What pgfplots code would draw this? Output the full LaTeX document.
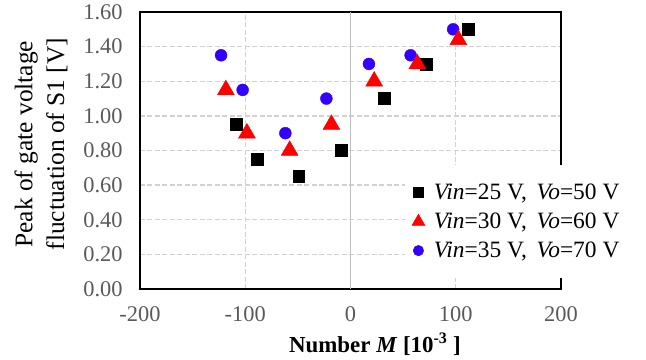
\documentclass[border=0pt]{standalone}
\usepackage{pgfplots}
\pgfplotsset{compat=1.18}
\usepackage{fontspec}
\setmainfont{Liberation Serif}
\definecolor{myblue}{RGB}{51,0,255}
\definecolor{tickgray}{RGB}{89,89,89}
\definecolor{gridgray}{RGB}{210,210,210}
\definecolor{zerogray}{RGB}{191,191,191}
\begin{document}
\begin{tikzpicture}
\path[use as bounding box] (0,0) rectangle (646bp,360bp);
\begin{axis}[
  at={(140bp,71bp)}, anchor=south west,
  scale only axis, width=421bp, height=277bp,
  xmin=-200, xmax=200, ymin=0, ymax=1.6,
  xtick={-200,-100,100,200},
  extra x ticks={0},
  extra x tick style={grid=major, major grid style={solid, zerogray, line width=1.6pt}},
  ytick={0,0.2,0.4,0.6,0.8,1.0,1.2,1.4,1.6},
  grid=major,
  major grid style={gridgray, line width=1.5pt, dash pattern=on 5pt off 2.5pt},
  major tick length=0pt,
  axis line style={black, line width=1.8pt},
  /pgf/number format/assume math mode=true,
  xticklabel style={font=\fontsize{22.5}{26}\selectfont, color=tickgray, yshift=-14pt},
  yticklabel style={font=\fontsize{22.5}{26}\selectfont, color=tickgray, xshift=-14pt,
    /pgf/number format/fixed, /pgf/number format/fixed zerofill, /pgf/number format/precision=2},
  xlabel={\textbf{Number \textit{M} [10\textsuperscript{-3} ]}},
  xlabel style={at={(axis description cs:0.558,-0.199)}, anchor=center, font=\fontsize{23}{27}\selectfont},
  ylabel={Peak of gate voltage\\fluctuation of S1 [V]},
  ylabel style={at={(axis description cs:-0.235,0.523)}, anchor=center, align=center, font=\fontsize{25.5}{32}\selectfont},
  legend style={draw=none, fill=white, at={(axis description cs:0.629,0.448)}, anchor=north west,
    inner xsep=7pt, inner ysep=17pt, row sep=8pt, column sep=7pt,
    font=\fontsize{23.5}{27}\selectfont, cells={anchor=west}},
  legend image code/.code={\draw[mark repeat=2,mark phase=2,#1] plot coordinates {(0pt,0pt)(6pt,0pt)(12pt,0pt)};},
]
\addplot[only marks, mark=square*, black, mark size=6pt, forget plot] coordinates {
(-108.9,0.95) (-88.6,0.75) (-49.2,0.65) (-8.6,0.80) (32,1.10) (71.7,1.30) (111.8,1.50)};
\addplot[only marks, mark=*, myblue, mark size=6pt, forget plot] coordinates {
(-123,1.35) (-102.5,1.15) (-61.9,0.90) (-22.9,1.10) (17.5,1.30) (57.1,1.35) (97.5,1.50)};
\addplot[only marks, mark=triangle*, red, mark size=9.8pt, forget plot] coordinates {
(-118.4,1.15) (-98.4,0.90) (-57.8,0.80) (-18.1,0.95) (22.5,1.20) (63.5,1.30) (102.5,1.44)};
\addlegendimage{only marks, mark=square*, black, mark size=5pt}
\addlegendentry{\textit{Vin}=25 V,\, \textit{Vo}=50 V}
\addlegendimage{only marks, mark=triangle*, red, mark size=7.5pt}
\addlegendentry{\textit{Vin}=30 V,\, \textit{Vo}=60 V}
\addlegendimage{only marks, mark=*, myblue, mark size=5.3pt}
\addlegendentry{\textit{Vin}=35 V,\, \textit{Vo}=70 V}
\end{axis}
\end{tikzpicture}
\end{document}
